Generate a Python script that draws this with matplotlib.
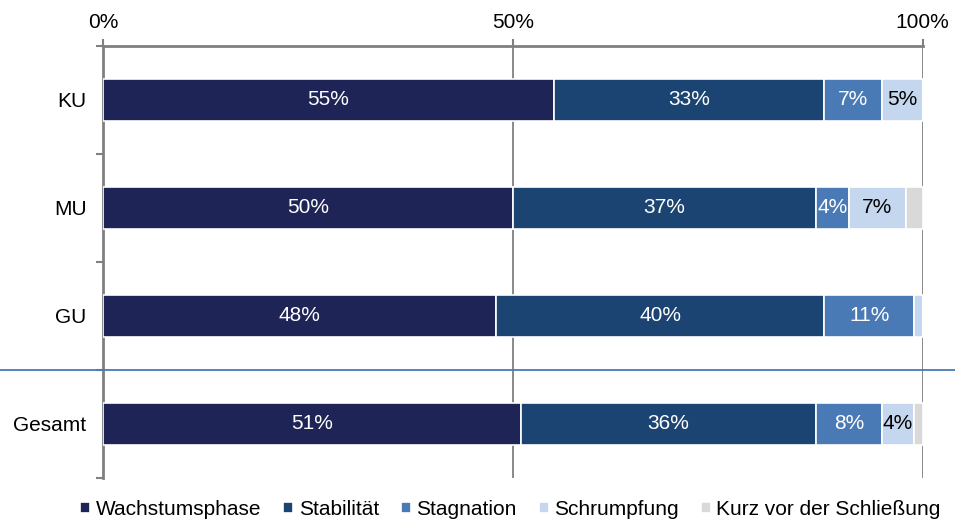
import matplotlib.pyplot as plt
import numpy as np

plt.rcParams['font.family'] = ['Liberation Sans', 'DejaVu Sans']

groups = ["KU", "MU", "GU", "Gesamt"]
series = ["Wachstumsphase", "Stabilität", "Stagnation", "Schrumpfung", "Kurz vor der Schließung"]
values = {
    "Wachstumsphase": [55, 50, 48, 51],
    "Stabilität": [33, 37, 40, 36],
    "Stagnation": [7, 4, 11, 8],
    "Schrumpfung": [5, 7, 1, 4],
    "Kurz vor der Schließung": [0, 2, 0, 1],
}
colors = ["#1F2456", "#1B4472", "#4A7AB5", "#C5D7EE", "#D9D9D9"]
text_colors = ["white", "white", "white", "black", "black"]

fig = plt.figure(figsize=(9.55, 5.2), dpi=100)
ax = fig.add_axes([0.108, 0.081, 0.858, 0.831])

y = np.arange(len(groups))
left = np.zeros(len(groups))
for name, col, tcol in zip(series, colors, text_colors):
    vals = np.array(values[name], dtype=float)
    ax.barh(y, vals, left=left, height=0.385, color=col, edgecolor="white",
            linewidth=1.2, label=name, zorder=3)
    for yi, (l, v) in enumerate(zip(left, vals)):
        if v >= 4:
            ax.text(l + v / 2, yi, f"{int(v)}%", ha="center", va="center",
                    color=tcol, fontsize=15, zorder=4)
    left += vals

ax.set_xlim(0, 100)
ax.set_ylim(3.5, -0.5)
ax.xaxis.tick_top()
ax.set_xticks([0, 50, 100])
ax.set_xticklabels(["0%", "50%", "100%"], fontsize=15)
ax.tick_params(axis="x", length=5, color="#808080", width=1.5, pad=5)
ax.set_yticks(y)
ax.set_yticklabels(groups, fontsize=15)
ax.tick_params(axis="y", which="major", length=0, pad=12)
ax.set_yticks(np.arange(-0.5, 4.0, 1.0), minor=True)
ax.tick_params(axis="y", which="minor", length=5, color="#808080", width=1.5)

for x in [50, 100]:
    ax.axvline(x, color="#808080", linewidth=1.3, zorder=1)

for side in ["right", "bottom"]:
    ax.spines[side].set_visible(False)
for side in ["top", "left"]:
    ax.spines[side].set_color("#808080")
    ax.spines[side].set_linewidth(2)

ax.axhline(2.5, xmin=-0.13, xmax=1.04, color="#4A7AB5", linewidth=1.3,
           clip_on=False, zorder=5)

ax.legend(loc="center", bbox_to_anchor=(0.497, -0.073), ncol=5, frameon=False,
          fontsize=15, handlelength=0.5, handleheight=0.5, handletextpad=0.25,
          columnspacing=1.05, borderaxespad=0, borderpad=0)

fig.savefig("out.png", dpi=100)
